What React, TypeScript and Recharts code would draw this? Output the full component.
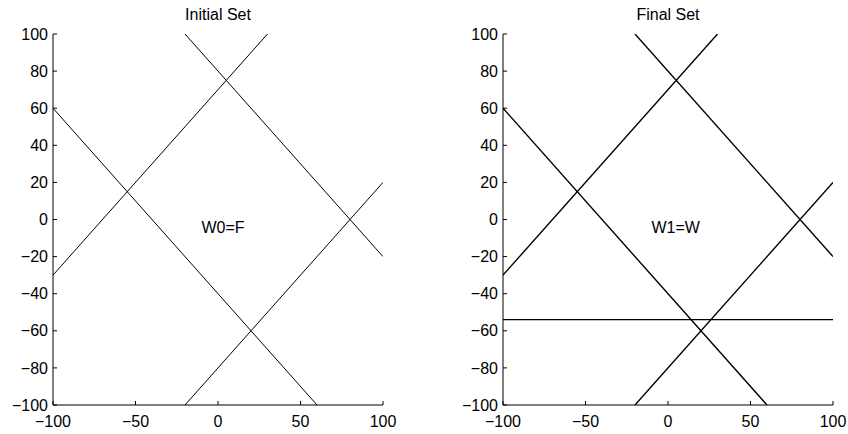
import React from "react";
import {
  LineChart,
  Line,
  XAxis,
  YAxis,
  ReferenceDot,
  Label,
} from "recharts";

type Pt = { x: number; y: number };

// boundary lines, endpoints clipped to the [-100, 100] box
const lineA: Pt[] = [
  { x: -100, y: 60 },
  { x: 60, y: -100 },
];
const lineB: Pt[] = [
  { x: -20, y: 100 },
  { x: 100, y: -20 },
];
const lineC: Pt[] = [
  { x: -100, y: -30 },
  { x: 30, y: 100 },
];
const lineD: Pt[] = [
  { x: -20, y: -100 },
  { x: 100, y: 20 },
];
// extra constraint in the final set
const lineH: Pt[] = [
  { x: -100, y: -54 },
  { x: 100, y: -54 },
];

const xTicks = [-100, -50, 0, 50, 100];
const yTicks = [-100, -80, -60, -40, -20, 0, 20, 40, 60, 80, 100];

const initialLines = [lineA, lineB, lineC, lineD];
const finalLines = [lineA, lineB, lineC, lineD, lineH];

const FONT = "'Liberation Sans', Arial, Helvetica, sans-serif";

function fmt(v: number): string {
  return v < 0 ? `\u2212${Math.abs(v)}` : String(v);
}

interface PanelProps {
  title: string;
  note: string;
  lines: Pt[][];
  left: number;
  yAxisWidth: number;
  rightMargin: number;
  lineWidth: number;
}

function Panel({
  title,
  note,
  lines,
  left,
  yAxisWidth,
  rightMargin,
  lineWidth,
}: PanelProps) {
  const width = 424;
  const height = 434;
  const plotLeft = yAxisWidth;
  const plotRight = width - rightMargin;
  const tickStyle = { fontSize: 16, fill: "#000", fontFamily: FONT };

  return (
    <div style={{ position: "absolute", left, top: 0, width, height }}>
      <div
        style={{
          position: "absolute",
          left: plotLeft,
          width: plotRight - plotLeft,
          top: 7,
          textAlign: "center",
          fontFamily: FONT,
          fontSize: 16,
          lineHeight: "16px",
          color: "#000",
        }}
      >
        {title}
      </div>
      <LineChart
        width={width}
        height={height}
        margin={{ top: 34, right: rightMargin, bottom: 0, left: 0 }}
      >
        <XAxis
          dataKey="x"
          type="number"
          domain={[-100, 100]}
          ticks={xTicks}
          interval={0}
          tickFormatter={fmt}
          tick={tickStyle}
          tickSize={-4}
          tickMargin={15}
          height={29}
          stroke="#000"
          allowDataOverflow
        />
        <YAxis
          type="number"
          domain={[-100, 100]}
          ticks={yTicks}
          interval={0}
          tickFormatter={fmt}
          tick={tickStyle}
          tickSize={-4}
          tickMargin={9}
          width={yAxisWidth}
          stroke="#000"
          allowDataOverflow
        />
        {lines.map((d, i) => (
          <Line
            key={i}
            data={d}
            dataKey="y"
            stroke="#000"
            strokeWidth={lineWidth}
            dot={false}
            activeDot={false}
            isAnimationActive={false}
          />
        ))}
        <ReferenceDot x={-10} y={-4} r={0} fill="none" stroke="none">
          <Label
            value={note}
            position="right"
            offset={0}
            style={{ fontSize: 16, fill: "#000", fontFamily: FONT }}
          />
        </ReferenceDot>
      </LineChart>
    </div>
  );
}

export default function App() {
  return (
    <div
      style={{
        position: "absolute",
        left: 0,
        top: 0,
        width: 848,
        height: 434,
        background: "#fff",
      }}
    >
      <Panel
        title="Initial Set"
        note="W0=F"
        lines={initialLines}
        left={0}
        yAxisWidth={53}
        rightMargin={41}
        lineWidth={1}
      />
      <Panel
        title="Final Set"
        note="W1=W"
        lines={finalLines}
        left={424}
        yAxisWidth={79}
        rightMargin={15}
        lineWidth={1.4}
      />
    </div>
  );
}
